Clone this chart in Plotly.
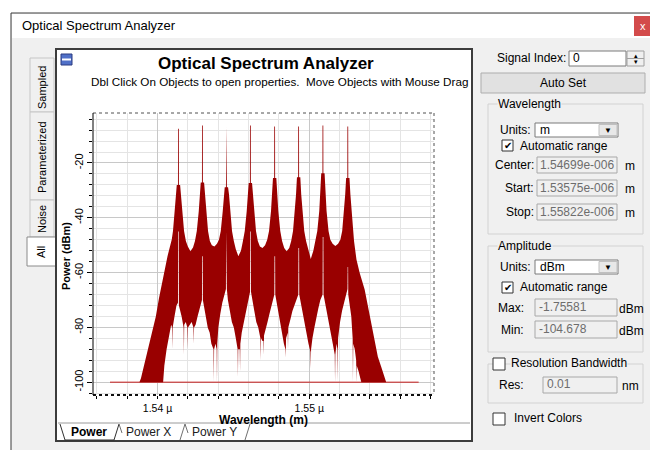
import plotly.graph_objects as go

# ---------------- data (wavelength in nm, power in dBm) ----------------
upper_envelope = [
    (1536.87, -100.0), (1538.81, -100.0), (1538.91, -98.6), (1539.23, -91.3), (1539.56, -83.4),
    (1539.89, -76.0), (1540.10, -69.3), (1540.43, -60.1), (1540.66, -54.0), (1540.94, -47.9),
    (1541.02, -44.8), (1541.13, -37.5), (1541.22, -31.4), (1541.27, -28.0), (1541.35, -28.0),
    (1541.355, -7.5), (1541.405, -7.5), (1541.41, -28.0), (1541.49, -28.0), (1541.55, -31.4), (1541.62, -37.5),
    (1541.75, -44.8), (1541.87, -48.5), (1542.00, -50.5), (1542.17, -52.2), (1542.34, -50.8),
    (1542.47, -48.5), (1542.59, -44.8), (1542.72, -37.5), (1542.79, -31.4), (1542.85, -27.1),
    (1542.93, -27.1), (1542.935, -6.3), (1542.985, -6.3), (1542.99, -27.1), (1543.07, -27.1), (1543.13, -31.4),
    (1543.20, -37.5), (1543.33, -44.8), (1543.45, -48.5), (1543.58, -50.0), (1543.75, -50.5),
    (1543.92, -49.5), (1544.05, -48.0), (1544.17, -44.8), (1544.30, -37.5), (1544.37, -31.4),
    (1544.43, -28.9), (1544.51, -28.9), (1544.515, -6.7), (1544.565, -6.7), (1544.57, -28.9), (1544.65, -28.9),
    (1544.71, -31.4), (1544.78, -37.5), (1544.91, -44.8), (1545.03, -48.5), (1545.16, -51.5),
    (1545.33, -54.0), (1545.50, -52.0), (1545.63, -48.5), (1545.75, -44.8), (1545.88, -37.5),
    (1545.95, -31.4), (1546.01, -27.3), (1546.09, -27.3), (1546.095, -6.3), (1546.145, -6.3), (1546.15, -27.3),
    (1546.23, -27.3), (1546.29, -31.4), (1546.36, -37.5), (1546.49, -44.8), (1546.61, -48.5),
    (1546.75, -50.5), (1546.92, -51.0), (1547.09, -50.0), (1547.23, -48.0), (1547.35, -44.8),
    (1547.48, -37.5), (1547.55, -31.4), (1547.61, -25.5), (1547.69, -25.5), (1547.695, -6.7), (1547.745, -6.7),
    (1547.75, -25.5), (1547.83, -25.5), (1547.89, -31.4), (1547.96, -37.5), (1548.09, -44.8),
    (1548.21, -48.5), (1548.35, -51.0), (1548.51, -52.2), (1548.68, -51.0), (1548.81, -48.5),
    (1548.93, -44.8), (1549.06, -37.5), (1549.13, -31.4), (1549.19, -25.2), (1549.27, -25.2),
    (1549.275, -6.7), (1549.325, -6.7), (1549.33, -25.2), (1549.41, -25.2), (1549.47, -31.4), (1549.54, -37.5),
    (1549.67, -44.8), (1549.79, -48.5), (1549.93, -52.0), (1550.10, -55.0), (1550.27, -52.0),
    (1550.41, -48.5), (1550.53, -44.8), (1550.66, -37.5), (1550.73, -31.4), (1550.79, -23.7),
    (1550.87, -23.7), (1550.875, -6.3), (1550.925, -6.3), (1550.93, -23.7), (1551.01, -23.7), (1551.07, -31.4),
    (1551.14, -37.5), (1551.27, -44.8), (1551.39, -48.0), (1551.54, -49.5), (1551.72, -50.3),
    (1551.90, -49.5), (1552.05, -48.0), (1552.17, -44.8), (1552.30, -37.5), (1552.37, -31.4),
    (1552.43, -25.5), (1552.51, -25.5), (1552.515, -6.7), (1552.565, -6.7), (1552.57, -25.5), (1552.65, -25.5),
    (1552.71, -31.4), (1552.78, -37.5), (1552.86, -44.8), (1552.95, -48.5), (1553.11, -55.2),
    (1553.32, -60.1), (1553.65, -66.2), (1553.87, -72.4), (1554.09, -78.5), (1554.31, -84.6),
    (1554.52, -90.7), (1554.74, -94.4), (1554.96, -98.0), (1555.07, -100.0), (1557.21, -100.0),
]

lower_envelope = [
    (1536.87, -100), (1540.37, -100),
    (1540.45, -94), (1540.60, -88), (1540.75, -83), (1540.90, -79), (1540.96, -80), (1540.98, -88),
    (1541.00, -80), (1541.12, -76), (1541.25, -72), (1541.35, -71),
    (1541.36, -45), (1541.40, -45), (1541.41, -72),
    (1541.59, -76), (1541.72, -80), (1541.74, -90), (1541.76, -79), (1541.86, -78), (1541.97, -80),
    (1541.99, -88), (1542.01, -80), (1542.12, -79), (1542.25, -78), (1542.37, -80), (1542.39, -86),
    (1542.41, -80), (1542.51, -79), (1542.64, -76), (1542.77, -73), (1542.93, -70),
    (1542.94, -54), (1542.98, -54), (1542.99, -70),
    (1543.05, -72), (1543.18, -76), (1543.31, -80), (1543.44, -82), (1543.55, -86), (1543.69, -88),
    (1543.71, -100), (1543.73, -88), (1543.82, -86), (1543.90, -88), (1543.92, -100), (1543.94, -86),
    (1544.01, -80), (1544.14, -75), (1544.27, -71), (1544.40, -68), (1544.51, -66),
    (1544.52, -45), (1544.56, -45), (1544.57, -66),
    (1544.64, -70), (1544.77, -74), (1544.90, -78), (1545.03, -80), (1545.16, -84), (1545.28, -88),
    (1545.30, -98), (1545.32, -88), (1545.42, -88), (1545.44, -96), (1545.46, -86), (1545.55, -82),
    (1545.66, -78), (1545.78, -75), (1545.90, -72), (1546.02, -69), (1546.10, -67),
    (1546.11, -45), (1546.15, -45), (1546.16, -67),
    (1546.25, -70), (1546.38, -74), (1546.51, -78), (1546.64, -80), (1546.78, -84), (1546.80, -92),
    (1546.82, -84), (1546.92, -85), (1546.98, -85), (1547.00, -90), (1547.02, -83), (1547.12, -81),
    (1547.25, -78), (1547.38, -75), (1547.50, -72), (1547.62, -70), (1547.70, -68),
    (1547.71, -54), (1547.75, -54), (1547.76, -68),
    (1547.85, -70), (1547.98, -74), (1548.11, -79), (1548.24, -83), (1548.33, -86), (1548.43, -88),
    (1548.45, -91), (1548.47, -84), (1548.58, -82), (1548.60, -88), (1548.62, -80), (1548.76, -77),
    (1548.89, -74), (1549.02, -72), (1549.15, -70), (1549.28, -68),
    (1549.29, -51), (1549.33, -51), (1549.34, -68),
    (1549.43, -70), (1549.56, -74), (1549.69, -78), (1549.82, -82), (1549.95, -86), (1550.08, -89),
    (1550.10, -95), (1550.12, -88), (1550.21, -84), (1550.34, -80), (1550.47, -76), (1550.60, -73),
    (1550.73, -70), (1550.88, -68),
    (1550.89, -47), (1550.93, -47), (1550.94, -68),
    (1551.03, -70), (1551.16, -74), (1551.29, -78), (1551.42, -82), (1551.55, -86), (1551.68, -90),
    (1551.70, -100), (1551.72, -90), (1551.80, -86), (1551.86, -88), (1551.88, -100), (1551.90, -84),
    (1552.03, -78), (1552.16, -74), (1552.29, -71), (1552.42, -68), (1552.52, -66),
    (1552.53, -58), (1552.56, -58), (1552.57, -68),
    (1552.64, -70), (1552.77, -76), (1552.86, -84), (1552.88, -100), (1552.90, -86), (1553.00, -88),
    (1553.09, -92), (1553.11, -100), (1553.13, -94), (1553.25, -96), (1553.43, -100),
    (1557.21, -100),
]

noise_floor_wl = [1536.87, 1557.21]
noise_floor_pw = [-100.0, -100.0]

x_range_nm = [1535.75, 1558.22]
y_range_dbm = [-104.678, -1.75581]
x_tick_alias = {"1540": "1.54 µ", "1550": "1.55 µ"}
y_tick_alias = {"\u221220": "-20", "\u221240": "-40", "\u221260": "-60",
                "\u221280": "-80", "\u2212100": "-100"}

# ---------------- build figure ----------------
up_x = [p[0] for p in upper_envelope]
up_y = [p[1] for p in upper_envelope]
lo_x = [p[0] for p in lower_envelope]
lo_y = [p[1] for p in lower_envelope]

fig = go.Figure()
fig.add_trace(go.Scatter(x=noise_floor_wl, y=noise_floor_pw, mode="lines",
                         line=dict(color="#c81e1e", width=1), hoverinfo="skip"))
fig.add_trace(go.Scatter(x=up_x + lo_x[::-1], y=up_y + lo_y[::-1], mode="lines",
                         fill="toself", fillcolor="#990000",
                         line=dict(color="#990000", width=0), hoverinfo="skip"))

FONT = "Liberation Sans, Arial, sans-serif"
L, R, T, B = 93, 434, 113, 395


def X(x):
    return (x - L) / (R - L)


def Y(y):
    return (B - y) / (B - T)


shapes, annots = [], []


def box(x0, y0, x1, y1, fill=None, line=None, width=1, layer="below", dash=None):
    ln = dict(color=line if line else "rgba(0,0,0,0)", width=width if line else 0)
    if dash:
        ln["dash"] = dash
    shapes.append(dict(type="rect", xref="paper", yref="paper", x0=X(x0), x1=X(x1),
                       y0=Y(y1), y1=Y(y0), layer=layer,
                       fillcolor=fill if fill else "rgba(0,0,0,0)", line=ln))


def seg(x0, y0, x1, y1, color, width=1, dash=None, layer="below"):
    ln = dict(color=color, width=width)
    if dash:
        ln["dash"] = dash
    shapes.append(dict(type="line", xref="paper", yref="paper", x0=X(x0), x1=X(x1),
                       y0=Y(y0), y1=Y(y1), layer=layer, line=ln))


def txt(x, y, s, size=12, color="black", xanchor="left", bold=False, angle=0, bg=None):
    a = dict(xref="paper", yref="paper", x=X(x), y=Y(y), text=f"<b>{s}</b>" if bold else s,
             showarrow=False, xanchor=xanchor, yanchor="middle", textangle=angle,
             font=dict(size=size, color=color, family=FONT), borderpad=0)
    if bg:
        a["bgcolor"] = bg
    annots.append(a)


# window
box(11, 13, 653, 453, fill="#f0f0f0", line="#3a3a3a", width=1)
box(12, 14, 652, 38, fill="white")
txt(21, 26, "Optical Spectrum Analyzer", 13)
box(634, 16, 651, 36, fill="#d34b4b")
txt(642.5, 26, "x", 11, color="white", xanchor="center")

# left vertical tabs
box(30, 58, 54, 112, fill="#f0f0f0", line="#c6c6c6")
box(30, 112, 54, 200, fill="#f0f0f0", line="#c6c6c6")
box(30, 200, 54, 237, fill="#f0f0f0", line="#c6c6c6")
box(27, 237, 58, 266, fill="white", line="#8a8a8a")
txt(42, 88, "Sampled", 11, xanchor="center", angle=-90)
txt(42, 157, "Parameterized", 11, xanchor="center", angle=-90)
txt(42, 219, "Noise", 11, xanchor="center", angle=-90)
txt(41, 252, "All", 11, xanchor="center", angle=-90)

# chart panel
box(56, 49, 472, 441, fill="white", line="#3c3c3c", width=2)
box(61, 54, 72, 65, fill="#5070c8", line="#2a3a80")
seg(62, 59.5, 71, 59.5, "white", 2)
txt(266, 63.5, "Optical Spectrum Analyzer", 17, bold=True, xanchor="center")
txt(279, 81, "Dbl Click On Objects to open properties.&nbsp; Move Objects with Mouse Drag",
    11.7, xanchor="center")

# bottom tabs
seg(58, 423, 470, 423, "#9a9a9a")
seg(60, 424, 65, 440, "#303030")
seg(114, 440, 119, 424, "#303030")
seg(119, 424, 122, 433, "#707070")
seg(180, 440, 185, 424, "#707070")
seg(185, 424, 188, 433, "#707070")
seg(245, 440, 250, 424, "#707070")
seg(65, 440, 114, 440, "#303030")
txt(89, 432, "Power", 12, bold=True, xanchor="center")
txt(148, 432, "Power X", 12, color="#202020", xanchor="center")
txt(214, 432, "Power Y", 12, color="#202020", xanchor="center")

# plot frame
seg(L, T, R, T, "#505050", 1, dash="dot", layer="above")
seg(R, T, R, B, "#505050", 1, dash="dot", layer="above")
seg(L, B, R, B, "#101010", 2, dash="dot", layer="above")
seg(L, T, L, B, "#000000", 1, layer="above")
txt(66, 256, "Power (dBm)", 11, bold=True, xanchor="center", angle=-90)
txt(263, 419.5, "Wavelength (m)", 12, bold=True, xanchor="center")

# right-side controls
GRAY_TXT = "#6d6d6d"
txt(567, 58, "Signal Index:", 12, xanchor="right")
box(569, 51, 626, 66, fill="white", line="#7a7a7a")
txt(572, 58, "0", 12)
box(627, 51, 644, 66, fill="#f0f0f0", line="#a0a0a0")
seg(627, 58.5, 644, 58.5, "#a0a0a0")
txt(635.5, 55, "▴", 7, xanchor="center")
txt(635.5, 62, "▾", 7, xanchor="center")
box(481, 73, 645, 93, fill="#e1e1e1", line="#adadad")
txt(563, 83, "Auto Set", 12, xanchor="center")

# wavelength group
box(488, 104, 643, 234, line="#d2d2d2")
txt(497, 104, "Wavelength", 12, bg="#f0f0f0")
txt(532, 130, "Units:", 12, xanchor="right")
box(535, 123, 618, 137, fill="white", line="#7a7a7a")
txt(539, 130, "m", 12)
box(599, 124.5, 617, 135.5, fill="#e8e8e8", line="#c0c0c0")
txt(608, 130, "▼", 8, xanchor="center")
box(502, 140, 513, 151, fill="white", line="#333333")
txt(507.5, 145.5, "✔", 10, xanchor="center")
txt(519, 146, "Automatic range", 12)
for ylab, lab, val in [(165, "Center:", "1.54699e-006"), (188, "Start:", "1.53575e-006"),
                       (212, "Stop:", "1.55822e-006")]:
    txt(535, ylab, lab, 12, xanchor="right")
    box(537, ylab - 8, 617, ylab + 8, fill="#f0f0f0", line="#a8a8a8")
    txt(539, ylab, val, 12, color=GRAY_TXT)
    txt(630, ylab + 1, "m", 12, xanchor="center")

# amplitude group
box(488, 246, 643, 352, line="#d2d2d2")
txt(497, 246, "Amplitude", 12, bg="#f0f0f0")
txt(532, 267, "Units:", 12, xanchor="right")
box(535, 260, 618, 274, fill="white", line="#7a7a7a")
txt(539, 267, "dBm", 12)
box(599, 261.5, 617, 272.5, fill="#e8e8e8", line="#c0c0c0")
txt(608, 267, "▼", 8, xanchor="center")
box(502, 282, 513, 293, fill="white", line="#333333")
txt(507.5, 287.5, "✔", 10, xanchor="center")
txt(519, 287, "Automatic range", 12)
for ylab, lab, val in [(308, "Max:", "-1.75581"), (330, "Min:", "-104.678")]:
    txt(525, ylab, lab, 12, xanchor="right")
    box(535, ylab - 9, 617, ylab + 8, fill="#f0f0f0", line="#a8a8a8")
    txt(538, ylab - 1, val, 12, color=GRAY_TXT)
    txt(631, ylab + 1, "dBm", 12, xanchor="center")

# resolution bandwidth group
box(488, 364, 643, 403, line="#d2d2d2")
box(493, 358, 505, 370, fill="white", line="#333333")
txt(510, 363, "Resolution Bandwidth", 12, bg="#f0f0f0")
txt(525, 385, "Res:", 12, xanchor="right")
box(543, 377, 617, 393, fill="#f0f0f0", line="#a8a8a8")
txt(546, 384, "0.01", 12, color=GRAY_TXT)
txt(630, 386, "nm", 12, xanchor="center")

box(493, 413, 505, 425, fill="white", line="#333333")
txt(513, 418, "Invert Colors", 12)

fig.update_layout(
    width=650, height=450, autosize=False,
    margin=dict(l=L, r=650 - R, t=T, b=450 - B, pad=0),
    paper_bgcolor="white", plot_bgcolor="white",
    showlegend=False, shapes=shapes, annotations=annots,
    font=dict(family=FONT, size=11, color="black"),
    xaxis=dict(range=x_range_nm, tickmode="linear", tick0=1540, dtick=10,
               labelalias=x_tick_alias, ticks="outside", ticklen=3, tickcolor="black",
               showgrid=True, gridcolor="#c8c8c8", gridwidth=1, zeroline=False,
               showline=False, automargin=False, tickfont=dict(size=10.5, family=FONT),
               minor=dict(tickmode="linear", tick0=1536, dtick=2, showgrid=True,
                          gridcolor="#e4e4e4", ticks="outside", ticklen=3, tickcolor="black")),
    yaxis=dict(range=y_range_dbm, tickmode="linear", tick0=0, dtick=20,
               labelalias=y_tick_alias, ticks="outside", ticklen=5, tickcolor="black",
               tickangle=-90, showgrid=True, gridcolor="#c8c8c8", gridwidth=1,
               zeroline=False, showline=False, automargin=False,
               tickfont=dict(size=11, family=FONT),
               minor=dict(tickmode="linear", tick0=0, dtick=4, showgrid=True,
                          gridcolor="#e4e4e4", ticks="outside", ticklen=3, tickcolor="black")),
)

fig.write_html("out.html")
